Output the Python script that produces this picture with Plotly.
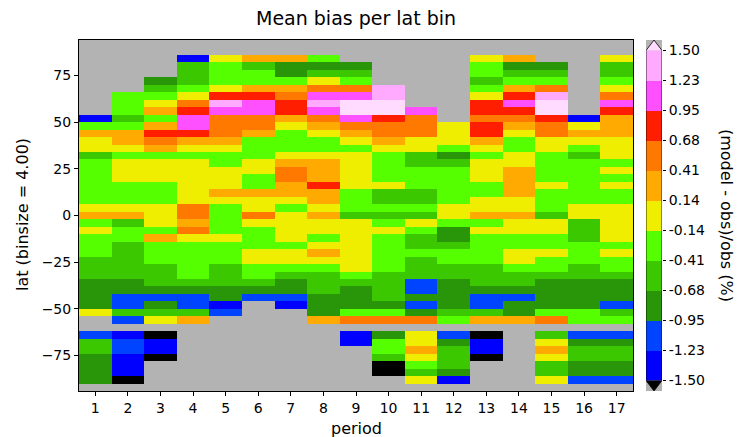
import plotly.graph_objects as go

N = None
periods = [1, 2, 3, 4, 5, 6, 7, 8, 9, 10, 11, 12, 13, 14, 15, 16, 17]
lat = [92, 88, 84, 80, 76, 72, 68, 64, 60, 56, 52, 48, 44, 40, 36, 32, 28, 24, 20, 16, 12, 8, 4, 0,
       -4, -8, -12, -16, -20, -24, -28, -32, -36, -40, -44, -48, -52, -56, -60, -64, -68, -72, -76,
       -80, -84, -88, -92]

# mean bias per period, listed from lat 92 (top) down to lat -92 (bottom)
p01 = [N, N, N, N, N, N, N, N, N, N, -1.36, -0.27, 0.27, 0, 0, -0.55, -0.27, -0.27, -0.27, -0.27, -0.27, -0.27, 0, 0.27,
       -0.27, 0, -0.27, -0.27, -0.27, -0.55, -0.55, -0.55, -0.82, -0.82, -0.82, -0.82, 0, N, N, -1.09, -0.55, -0.55,
       -0.82, -0.82, -0.82, -0.82, N]
p02 = [N, N, N, N, N, N, N, -0.27, -0.27, -0.27, -0.55, -0.27, 0.27, 0.27, 0, -0.27, 0, 0, 0, -0.27, -0.27, -0.27, 0, 0.27,
       -0.55, -0.27, -0.27, -0.55, -0.55, -0.55, -0.55, -0.55, -0.82, -0.82, -1.09, -1.09, -0.55, -1.09, N, -1.36, -1.09, -1.09,
       -1.36, -1.36, -1.36, -1.62, N]
p03 = [N, N, N, N, N, -0.82, -0.55, -0.27, 0, 0.27, -0.27, 0.27, 0.82, 0.55, 0.27, -0.27, 0, 0, 0, -0.27, -0.27, -0.27, 0, 0,
       0, -0.27, 0.27, -0.27, -0.27, -0.27, -0.55, -0.55, -0.55, -0.82, -1.09, -0.82, -0.55, 0, N, -1.62, -1.36, -1.36,
       -1.62, N, N, N, N]
p04 = [N, N, -1.36, -0.55, -0.55, -0.55, -0.27, 0, 0.55, 0.82, 1.09, 1.09, 0.82, 0.27, 0, -0.27, 0, 0, 0, 0, 0, 0, 0.55, 0.55,
       0.27, 0.55, 0, -0.27, -0.27, -0.27, -0.27, -0.27, -0.55, -0.82, -1.09, -1.09, -0.55, 0.27, N, N, N, N,
       N, N, N, N, N]
p05 = [N, N, 0, -0.27, -0.27, -0.27, 0, 0.82, 1.36, 1.09, 0.55, 0.55, 0.55, 0.27, 0, -0.27, -0.27, 0, 0, 0, 0.27, 0, -0.27, -0.27,
       -0.27, -0.27, 0, -0.27, -0.27, -0.27, -0.55, -0.55, -0.55, -0.82, -0.82, -1.36, -1.09, N, N, N, N, N,
       N, N, N, N, N]
p06 = [N, N, 0.27, -0.55, -0.27, -0.27, 0.27, 0.82, 1.09, 1.09, 0.55, 0.55, 0.27, -0.27, -0.27, -0.27, 0, 0, -0.27, -0.27, 0.27, 0, 0, 0.55,
       0, -0.27, -0.27, -0.27, 0, 0, -0.27, -0.27, -0.55, -0.82, -1.09, N, N, N, N, N, N, N,
       N, N, N, N, N]
p07 = [N, N, 0.27, -0.82, -0.82, -0.27, 0.27, 0.55, 0.82, 0.82, 0.27, 0, -0.27, -0.27, -0.27, 0, 0.27, 0.55, 0.55, 0.27, 0.27, 0, -0.27, 0,
       0, 0, 0, -0.27, 0, 0, -0.27, -0.55, -0.82, -0.82, -1.09, -1.36, N, N, N, N, N, N,
       N, N, N, N, N]
p08 = [N, N, -0.27, -0.82, -0.55, 0, 0.55, 1.09, 1.36, 1.09, 0.55, 0.27, 0, -0.27, -0.27, 0, 0.27, 0.27, 0.27, 0.82, 0.27, 0.27, 0, 0.27,
       0, 0, -0.27, 0, 0.27, 0, -0.27, -0.55, -0.55, -0.55, -0.82, -0.82, -0.82, 0.27, N, N, N, N,
       N, N, N, N, N]
p09 = [N, N, N, -0.82, -0.55, -0.27, 0.55, 1.09, 1.62, 1.62, 1.09, 0.55, 0.27, 0, -0.27, 0, 0, 0, 0, 0, -0.27, -0.27, -0.27, -0.55,
       0, 0, 0, 0, 0, 0, 0, -0.27, -0.55, -0.82, -0.82, -0.82, -0.27, 0.55, N, -1.36, -1.36, N,
       N, N, N, N, N]
p10 = [N, N, N, N, N, N, 1.36, 1.36, 1.62, 1.62, 0.82, 0.55, 0.55, 0.27, 0, -0.27, -0.27, -0.27, -0.27, 0, -0.55, -0.55, -0.27, -0.55,
       -0.27, 0, -0.27, -0.27, -0.27, -0.27, -0.27, -0.55, -0.55, -0.55, -0.55, -0.82, -0.27, 0.55, N, -0.82, -0.27, -0.27,
       -0.55, -1.62, -1.62, N, N]
p11 = [N, N, N, N, N, N, N, N, N, 1.09, 0.55, 0.55, 0.55, 0, 0, -0.55, -0.55, -0.27, -0.27, -0.27, -0.55, -0.55, -0.27, -0.55,
       0, -0.27, -0.55, -0.55, -0.27, -0.55, -0.55, -0.55, -1.09, -1.09, -0.82, -1.09, -0.82, 0.55, N, 0, 0, 0.27,
       0, -0.27, -0.55, 0, N]
p12 = [N, N, N, N, N, N, N, N, N, N, N, 0, 0, 0, -0.27, -0.82, -0.55, -0.27, -0.27, -0.27, -0.27, -0.27, 0, 0,
       -0.27, -0.82, -0.82, -0.55, -0.27, -0.27, -0.55, -0.55, -0.82, -0.82, -0.82, -0.82, -0.55, -0.27, N, -1.09, -0.82, -0.55,
       -0.55, -0.55, -0.82, -1.36, N]
p13 = [N, N, 0, -0.27, -0.27, -0.55, -0.27, 0, 0.82, 0.82, 0.55, 0.82, 0.82, 0.27, 0, -0.27, 0, 0, 0, -0.27, -0.27, 0, 0, 0.27,
       -0.27, 0, -0.27, -0.27, -0.27, -0.27, -0.55, -0.55, -0.55, -0.82, -1.09, -1.09, -0.55, 0.27, N, -1.62, -1.36, -1.36,
       -1.62, N, N, N, N]
p14 = [N, N, 0.27, -0.82, -0.55, -0.27, 0.27, 0.82, 1.09, 0.82, 0.55, 0.27, 0, -0.27, -0.27, 0, 0, 0.27, 0.27, 0.27, 0.27, 0, 0, 0.27,
       0, 0, -0.27, -0.27, 0, 0, -0.27, -0.55, -0.55, -0.82, -1.09, -0.82, -0.82, 0.27, N, N, N, N,
       N, N, N, N, N]
p15 = [N, N, N, -0.82, -0.55, -0.27, 0.55, 1.36, 1.62, 1.62, 0.82, 0.55, 0.55, 0, 0, -0.27, -0.27, -0.27, -0.27, 0, -0.27, -0.27, -0.27, -0.55,
       0, 0, -0.27, -0.27, 0, -0.27, -0.27, -0.55, -0.82, -0.82, -0.82, -0.82, -0.27, 0.55, N, -0.55, 0, 0.27,
       0, -0.55, -0.55, 0, N]
p16 = [N, N, N, N, N, N, N, N, N, N, -1.36, 0, 0.27, 0, -0.27, -0.55, -0.27, -0.27, -0.27, -0.27, -0.27, -0.27, 0, 0,
       -0.55, -0.55, -0.55, -0.27, -0.27, -0.27, -0.55, -0.55, -0.82, -0.82, -0.82, -0.82, -0.27, -0.27, N, -1.09, -0.82, -0.55,
       -0.55, -0.82, -0.82, -1.09, N]
p17 = [N, N, 0, -0.55, -0.55, -0.27, 0, 0.55, 1.09, 0.82, 0.27, 0.27, 0.27, 0, 0, 0, -0.27, 0, -0.27, 0, -0.27, -0.27, 0, 0,
       0, 0, 0, -0.27, 0, -0.27, -0.27, -0.55, -0.82, -0.82, -0.82, -1.09, -0.55, -0.27, N, -1.09, -0.82, -0.55,
       -0.55, -0.82, -0.82, -1.09, N]

columns = [p01, p02, p03, p04, p05, p06, p07, p08, p09, p10, p11, p12, p13, p14, p15, p16, p17]

levels = [-1.5, -1.2273, -0.9545, -0.6818, -0.4091, -0.1364, 0.1364, 0.4091, 0.6818, 0.9545, 1.2273, 1.5]
level_labels = ["-1.50", "-1.23", "-0.95", "-0.68", "-0.41", "-0.14", "0.14", "0.41", "0.68", "0.95", "1.23", "1.50"]
under_color = "#000000"
over_color = "#ffdcff"
band_colors = ["#0000ff", "#0044ff", "#289608", "#3cc800", "#55ff00", "#f0ee00",
               "#ffaa00", "#ff7800", "#ff1e00", "#ff50ff", "#ffaaff"]

step = levels[1] - levels[0]
zmin = levels[0] - step
zmax = levels[-1] + step
all_colors = [under_color] + band_colors + [over_color]
nb = len(all_colors)
colorscale = []
for k, c in enumerate(all_colors):
    colorscale.append([k / nb, c])
    colorscale.append([(k + 1) / nb, c])

z = [[columns[k][i] for k in range(len(periods))] for i in range(len(lat))]

fig = go.Figure()
fig.add_trace(go.Heatmap(x=periods, y=lat, z=z, colorscale=colorscale, zmin=zmin, zmax=zmax,
                         showscale=False, xaxis="x", yaxis="y", hoverongaps=False))

# manual colorbar
band_mid = [(levels[k] + levels[k + 1]) / 2 for k in range(len(levels) - 1)]
fig.add_trace(go.Heatmap(x=[0], y=band_mid, z=[[v] for v in band_mid], colorscale=colorscale,
                         zmin=zmin, zmax=zmax, showscale=False, xaxis="x2", yaxis="y2"))

ext = 0.0955
lo, hi = levels[0], levels[-1]
fig.add_shape(type="path", xref="x2", yref="y2",
              path=f"M -0.5 {hi} L 0 {hi + ext} L 0.5 {hi} Z", fillcolor=over_color,
              line=dict(width=0))
fig.add_shape(type="path", xref="x2", yref="y2",
              path=f"M -0.5 {lo} L 0 {lo - ext} L 0.5 {lo} Z", fillcolor=under_color,
              line=dict(width=0))
fig.add_shape(type="path", xref="x2", yref="y2",
              path=f"M -0.5 {lo} L 0 {lo - ext} L 0.5 {lo} L 0.5 {hi} L 0 {hi + ext} L -0.5 {hi} Z",
              line=dict(color="black", width=0.8))

font = "DejaVu Sans"
x0d, x1d = 79 / 741, 633 / 741
y0d, y1d = 1 - 391 / 437, 1 - 40 / 437

fig.update_layout(
    width=741, height=437,
    margin=dict(l=0, r=0, t=0, b=0),
    paper_bgcolor="white",
    plot_bgcolor="#b3b3b3",
    font=dict(family=font, size=14, color="black"),
    showlegend=False,
    xaxis=dict(domain=[x0d, x1d], range=[0.5, 17.5], tickvals=periods, ticks="outside", ticklen=4,
               tickwidth=1, tickcolor="black", showline=True, mirror=True, linecolor="black", linewidth=1,
               showgrid=False, zeroline=False, anchor="y", tickfont=dict(size=14)),
    yaxis=dict(domain=[y0d, y1d], range=[-94, 94], tickvals=[-75, -50, -25, 0, 25, 50, 75],
               ticks="outside", ticklen=4, tickwidth=1, tickcolor="black", showline=True, mirror=True,
               linecolor="black", linewidth=1, showgrid=False, zeroline=False, anchor="x",
               tickfont=dict(size=14)),
    xaxis2=dict(domain=[646 / 741, 662 / 741], range=[-0.5, 0.5], visible=False, anchor="y2"),
    yaxis2=dict(domain=[y0d, y1d], range=[lo - ext, hi + ext], anchor="x2", side="right",
                tickvals=levels, ticktext=level_labels, ticks="outside", ticklen=3, tickwidth=1,
                tickcolor="black", showgrid=False, zeroline=False, showline=False,
                tickfont=dict(size=14)),
    annotations=[
        dict(text="Mean bias per lat bin", x=356 / 741, y=1 - 18 / 437, xref="paper", yref="paper",
             showarrow=False, font=dict(size=19), xanchor="center", yanchor="middle"),
        dict(text="period", x=356 / 741, y=1 - 428 / 437, xref="paper", yref="paper",
             showarrow=False, font=dict(size=16), xanchor="center", yanchor="middle"),
        dict(text="lat (binsize = 4.00)", x=22 / 741, y=1 - 215 / 437, xref="paper", yref="paper",
             showarrow=False, font=dict(size=16), textangle=-90, xanchor="center", yanchor="middle"),
        dict(text="(model - obs)/obs (%)", x=727 / 741, y=1 - 215 / 437, xref="paper", yref="paper",
             showarrow=False, font=dict(size=16), textangle=90, xanchor="center", yanchor="middle"),
    ],
)

fig.write_html("out.html")
